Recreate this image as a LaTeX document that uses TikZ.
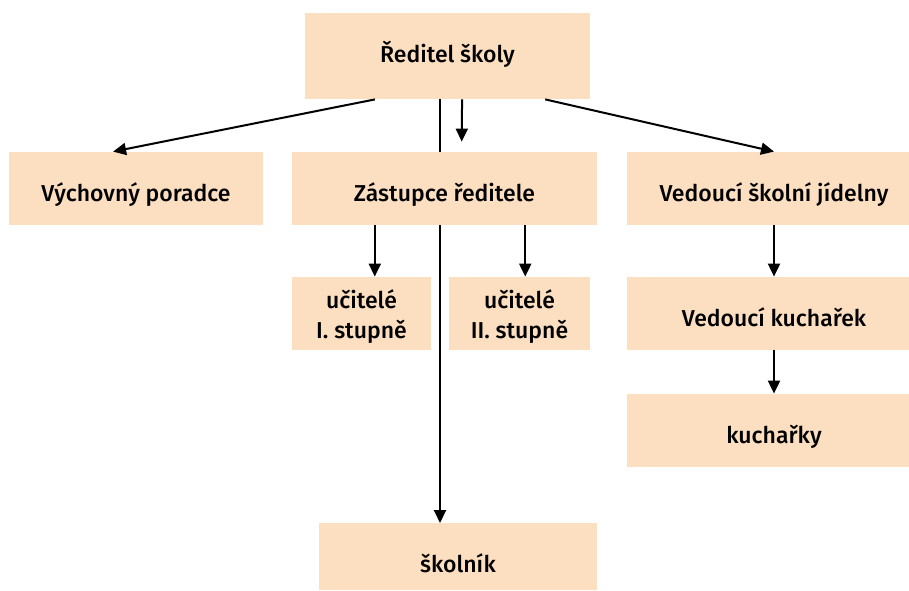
\documentclass[tikz,border=0pt]{standalone}
\usepackage{fontspec}
\setmainfont{Fira Sans}[UprightFont=* Medium]
\usetikzlibrary{calc,arrows.meta}

\definecolor{peach}{RGB}{252,222,192}

\begin{document}
\begin{tikzpicture}[x=0.5pt, y=-0.5pt,
    box/.style={rectangle, fill=peach, inner sep=0pt, align=center,
        font=\fontsize{11.5}{15}\selectfont, minimum height=36.5pt,
        text height=24.5pt, text depth=12pt},
    arr/.style={line width=1pt, -{Triangle[length=6.5pt, width=6pt]}},
    link/.style={line width=1pt}]
    % Canvas
    \useasboundingbox (0,0) rectangle (909,590);
    \clip (0,0) rectangle (909,590);

    % Column of the spine line down to the caretaker
    \coordinate (spine) at (440,0);

    % Line from the head down to the caretaker (behind the boxes)
    \coordinate (top) at (440,99);
    \coordinate (bot) at (440,523);
    \draw[arr] (top) -- (bot);

    % Boxes
    \node[box, minimum width=142.5pt, minimum height=43pt, text depth=18.5pt] (reditel) at (447.5,56) {Ředitel školy};
    \node[box, minimum width=127pt] (poradce) at (136,188.5) {Výchovný poradce};
    \node[box, minimum width=152.5pt] (zastupce) at (444.5,188.5) {Zástupce ředitele};
    \node[box, minimum width=147pt] (jidelna) at (774,188.5) {Vedoucí školní jídelny};
    \node[box, minimum width=69.5pt, text height=30.5pt, text depth=6pt] (ucitele1) at (361.5,313.5) {učitelé\\I. stupně};
    \node[box, minimum width=70.5pt, text height=30.5pt, text depth=6pt] (ucitele2) at (519.5,313.5) {učitelé\\II. stupně};
    \node[box, minimum width=147pt] (vedkuch) at (774,313.5) {Vedoucí kuchařek};
    \node[box, minimum width=147pt] (kucharky) at (774,430.5) {kuchařky};
    \node[box, minimum width=139pt, minimum height=33.5pt, text depth=9pt] (skolnik) at (458,556.5) {školník};

    % Arrows from the head
    \draw[arr] ($(reditel.south west)!0.246!(reditel.south east)$) -- ($(poradce.north west)!0.41!(poradce.north east)$);
    \draw[arr] ($(reditel.south west)!0.842!(reditel.south east)$) -- (jidelna.north);
    \draw[link] (reditel.south -| spine) -- (zastupce.north -| spine);
    \draw[arr, shorten >=5pt] ($(reditel.south west)!0.551!(reditel.south east)$) -- ($(zastupce.north west)!0.556!(zastupce.north east)$);

    % Arrows from the deputy
    \draw[arr] ($(zastupce.south west)!0.272!(zastupce.south east)$) -- (ucitele1.north -| {$(zastupce.south west)!0.272!(zastupce.south east)$});
    \draw[arr] ($(zastupce.south west)!0.764!(zastupce.south east)$) -- (ucitele2.north -| {$(zastupce.south west)!0.764!(zastupce.south east)$});

    % Kitchen column
    \draw[arr] (jidelna) -- (vedkuch);
    \draw[arr] (vedkuch) -- (kucharky);
\end{tikzpicture}
\end{document}
